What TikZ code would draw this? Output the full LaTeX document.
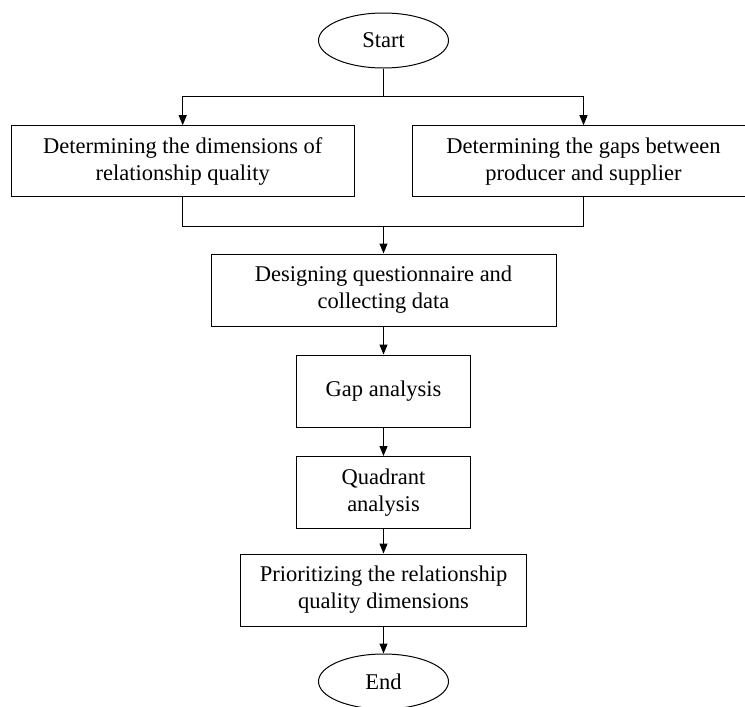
\documentclass[tikz,border=0pt]{standalone}
\usepackage{fontspec}
\setmainfont{Liberation Serif}
\usetikzlibrary{arrows.meta,shapes.geometric}
\begin{document}
\begin{tikzpicture}[x=1pt,y=-1pt,
  box/.style={draw, line width=1pt, align=center, inner sep=0pt, font=\fontsize{22.5}{27}\selectfont},
  oval/.style={draw, ellipse, line width=1pt, inner sep=0pt, minimum width=130pt, minimum height=55pt, font=\fontsize{22.5}{27}\selectfont},
  arr/.style={-{Triangle[length=10pt,width=8pt]}, line width=1pt},
  ln/.style={line width=1pt}]
\useasboundingbox (0,0) rectangle (745,707);
\clip (0,0) rectangle (745,707);
\node[oval] (start) at (383.5,40.5) {Start};
\node[box, minimum width=343pt, minimum height=71pt] (b1) at (182.7,161.2) {Determining the dimensions of\\relationship quality};
\node[box, minimum width=343pt, minimum height=71pt] (b2) at (583.5,161.2) {Determining the gaps between\\producer and supplier};
\node[box, minimum width=345pt, minimum height=72pt] (b3) at (383.5,290) {Designing questionnaire and\\collecting data};
\node[box, minimum width=174pt, minimum height=72pt] (b4) at (383.5,391) {Gap analysis};
\node[box, minimum width=174pt, minimum height=72pt] (b5) at (383.5,492.5) {Quadrant\\analysis};
\node[box, minimum width=286pt, minimum height=72pt] (b6) at (383.5,590) {Prioritizing the relationship\\quality dimensions};
\node[oval] (end) at (383.5,681.5) {End};
\coordinate (j1) at (383.5,96.7);
\coordinate (j2) at (383.5,226);
\draw[ln] (start.south) -- (j1);
\draw[arr] (j1) -| (b1.north);
\draw[arr] (j1) -| (b2.north);
\draw[ln] (b1.south) |- (j2);
\draw[ln] (b2.south) |- (j2);
\draw[arr] (j2) -- (b3.north);
\draw[arr] (b3.south) -- (b4.north);
\draw[arr] (b4.south) -- (b5.north);
\draw[arr] (b5.south) -- (b6.north);
\draw[arr] (b6.south) -- (end.north);
\end{tikzpicture}
\end{document}
